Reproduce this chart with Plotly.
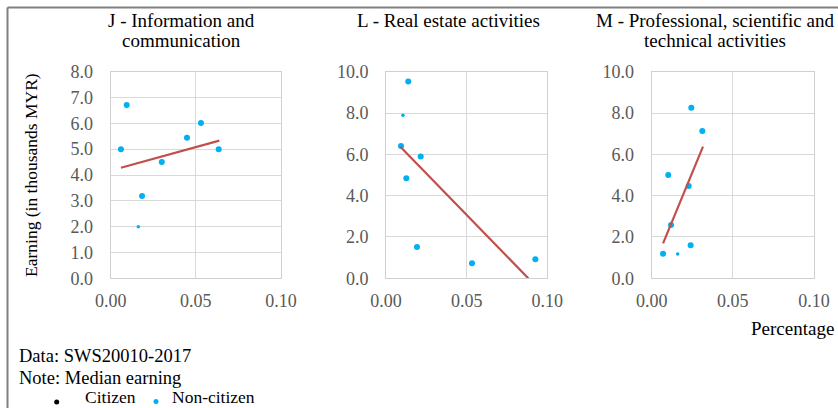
import plotly.graph_objects as go

# ---------------- data ----------------
# J - Information and communication (non-citizen)
j_x = [0.006, 0.0094, 0.0184, 0.030, 0.0448, 0.053, 0.0634]
j_y = [5.0, 6.71, 3.19, 4.5, 5.44, 6.01, 5.0]
j_small_x = [0.0162]
j_small_y = [2.0]
j_trend_x = [0.006, 0.0638]
j_trend_y = [4.28, 5.33]

# L - Real estate activities (non-citizen)
l_x = [0.0138, 0.0093, 0.0215, 0.0126, 0.0192, 0.0533, 0.0926]
l_y = [9.52, 6.40, 5.90, 4.84, 1.52, 0.73, 0.92]
l_small_x = [0.0105]
l_small_y = [7.89]
l_trend_x = [0.0089, 0.0882]
l_trend_y = [6.37, 0.0]

# M - Professional, scientific and technical activities (non-citizen)
m_x = [0.0244, 0.0312, 0.0102, 0.0228, 0.0119, 0.024, 0.007]
m_y = [8.26, 7.13, 5.0, 4.47, 2.58, 1.6, 1.19]
m_small_x = [0.016]
m_small_y = [1.18]
m_trend_x = [0.007, 0.0316]
m_trend_y = [1.69, 6.37]

panel_titles = [
    ["J - Information and", "communication"],
    ["L - Real estate activities"],
    ["M - Professional, scientific and", "technical activities"],
]
x_ticks = [0.0, 0.05, 0.10]
y_ranges = [[0, 8], [0, 10], [0, 10]]
y_dticks = [1, 2, 2]

# ---------------- style ----------------
W, H = 838, 408
FONT = "'Liberation Serif', 'Times New Roman', Times, serif"
FS = 17.5
FS_TICK = 18
FS_TITLE = 19
FS_NOTE = 18.5
BLUE = "#00B0F0"
RED = "#C0504D"
GRID = "#D9D9D9"
TICKC = "#595959"

def px(x):
    return x / W

def py(y):
    return 1 - y / H

x_domains = [[110.7, 281.0], [386.0, 547.3], [651.7, 814.0]]
y_domain = [py(278.3), py(71.7)]

fig = go.Figure()

series = [
    (j_x, j_y, j_small_x, j_small_y, j_trend_x, j_trend_y),
    (l_x, l_y, l_small_x, l_small_y, l_trend_x, l_trend_y),
    (m_x, m_y, m_small_x, m_small_y, m_trend_x, m_trend_y),
]

for i, (sx, sy, ssx, ssy, tx, ty) in enumerate(series):
    xa = "x" if i == 0 else f"x{i+1}"
    ya = "y" if i == 0 else f"y{i+1}"
    fig.add_trace(go.Scatter(x=sx, y=sy, mode="markers", xaxis=xa, yaxis=ya,
                             marker=dict(color=BLUE, size=6), name="Non-citizen",
                             showlegend=False))
    fig.add_trace(go.Scatter(x=ssx, y=ssy, mode="markers", xaxis=xa, yaxis=ya,
                             marker=dict(color=BLUE, size=3.5), name="Non-citizen",
                             showlegend=False))
    fig.add_trace(go.Scatter(x=tx, y=ty, mode="lines", xaxis=xa, yaxis=ya,
                             line=dict(color=RED, width=2.2), name="Trend",
                             showlegend=False))

axis_common = dict(
    showgrid=True, gridcolor=GRID, gridwidth=1,
    showline=True, linecolor="#D0D0D0", linewidth=1, mirror=True,
    zeroline=False, ticks="outside", tickcolor="rgba(0,0,0,0)",
    tickfont=dict(family=FONT, size=FS_TICK, color=TICKC),
    automargin=False, fixedrange=True,
)

layout = dict(
    width=W, height=H, margin=dict(l=0, r=0, t=0, b=0),
    paper_bgcolor="white", plot_bgcolor="white",
    template="none", showlegend=False,
    font=dict(family=FONT, size=FS, color="black"),
)
for i in range(3):
    sfx = "" if i == 0 else str(i + 1)
    layout[f"xaxis{sfx}"] = dict(
        axis_common, domain=[px(x_domains[i][0]), px(x_domains[i][1])],
        range=[0, 0.1], tickvals=x_ticks, tickformat=".2f", ticklen=6,
        anchor=f"y{sfx}",
    )
    layout[f"yaxis{sfx}"] = dict(
        axis_common, domain=y_domain, range=y_ranges[i], dtick=y_dticks[i],
        tick0=0, tickformat=".1f", ticklen=13, anchor=f"x{sfx}",
    )
fig.update_layout(**layout)

def text_ann(text, x, y, size=FS, xanchor="left", yanchor="middle", **kw):
    d = dict(text=text, x=x, y=y, xref="paper", yref="paper", xanchor=xanchor,
             yanchor=yanchor, showarrow=False,
             font=dict(family=FONT, size=size, color="black"))
    d.update(kw)
    return d

ann = []
title_centers = [181.0, 448.5, 714.7]
line_ys = [20.5, 40.8]
for i, lines in enumerate(panel_titles):
    for j, t in enumerate(lines):
        ann.append(text_ann(t, px(title_centers[i]), py(line_ys[j]), size=FS_TITLE,
                            xanchor="center"))

ann.append(text_ann("Earning (in thousands MYR)", px(31), py(175), xanchor="center",
                    textangle=-90))
ann.append(text_ann("Percentage", px(836), py(328), size=FS_TITLE, xanchor="right"))
ann.append(text_ann("Data: SWS20010-2017", px(17), py(356), size=FS_NOTE))
ann.append(text_ann("Note: Median earning", px(17), py(377.5), size=FS_NOTE))
ann.append(text_ann("Citizen", px(84), 0.0, yanchor="bottom", borderpad=0))
ann.append(text_ann("Non-citizen", px(170.5), 0.0, yanchor="bottom", borderpad=0))

shapes = [
    # frame lines of the surrounding box
    dict(type="line", xref="paper", yref="paper", x0=px(7.5), x1=1.0, y0=py(7.5), y1=py(7.5),
         line=dict(color="#808080", width=2)),
    dict(type="line", xref="paper", yref="paper", x0=px(7.5), x1=px(7.5), y0=py(7.5), y1=0.0,
         line=dict(color="#808080", width=2)),
    # legend bullets
    dict(type="circle", xref="paper", yref="paper", x0=px(54.2), x1=px(59.2),
         y0=py(404.5), y1=py(399.5), fillcolor="black", line=dict(width=0)),
    dict(type="circle", xref="paper", yref="paper", x0=px(153.5), x1=px(158.5),
         y0=py(404), y1=py(399), fillcolor=BLUE, line=dict(width=0)),
]
fig.update_layout(annotations=ann, shapes=shapes)

fig.write_html("out.html")
